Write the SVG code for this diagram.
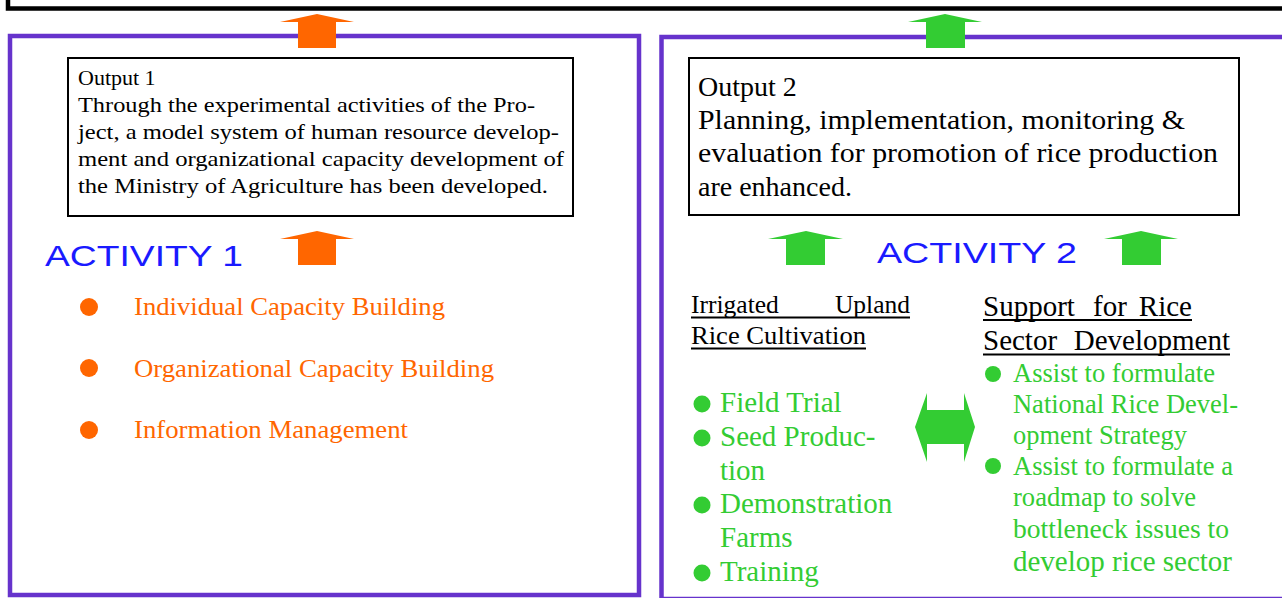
<svg xmlns="http://www.w3.org/2000/svg" width="1282" height="598" viewBox="0 0 1282 598">
<style>
.frame{fill:none;stroke:#6633CC;stroke-width:4.5}
.box{fill:#fff;stroke:#000;stroke-width:2}
.serif{font-family:"Liberation Serif","Times New Roman",serif}
.blk{fill:#000}
.act{font-family:"Liberation Sans",Arial,sans-serif;font-size:30px;fill:#1a1aff}
.org{fill:#FF6600}
.grn{fill:#33CC33}
.ul{stroke:#000;stroke-width:2}
</style>
<rect width="1282" height="598" fill="#fff"/>
<g id="goal">
<rect x="8" y="-50" width="1320" height="58.5" fill="none" stroke="#000" stroke-width="4.5"/>
</g>
<g id="left-panel">
<rect class="frame" x="10" y="36" width="629" height="559"/>
</g>
<g id="right-panel">
<rect class="frame" x="661.5" y="37" width="660" height="562"/>
</g>
<g id="output1">
<rect class="box" x="68" y="58" width="505" height="158"/>
<g class="serif blk" font-size="21.5">
<text x="78" y="85" font-size="22">Output 1</text>
<text x="78" y="112" textLength="457" lengthAdjust="spacingAndGlyphs">Through the experimental activities of the Pro-</text>
<text x="78" y="139" textLength="481" lengthAdjust="spacingAndGlyphs">ject, a model system of human resource develop-</text>
<text x="78" y="166" textLength="486" lengthAdjust="spacingAndGlyphs">ment and organizational capacity development of</text>
<text x="78" y="193" textLength="470" lengthAdjust="spacingAndGlyphs">the Ministry of Agriculture has been developed.</text>
</g>
</g>
<g id="output2">
<rect class="box" x="689" y="58" width="550" height="157"/>
<g class="serif blk" font-size="28">
<text x="698" y="96">Output 2</text>
<text x="698" y="129" textLength="487" lengthAdjust="spacingAndGlyphs">Planning, implementation, monitoring &amp;</text>
<text x="698" y="162" textLength="520" lengthAdjust="spacingAndGlyphs">evaluation for promotion of rice production</text>
<text x="698" y="196">are enhanced.</text>
</g>
</g>
<g id="activity1">
<text class="act" x="45" y="266" textLength="198" lengthAdjust="spacingAndGlyphs">ACTIVITY 1</text>
<g class="org">
<circle cx="89" cy="307" r="9"/>
<circle cx="89" cy="368" r="9"/>
<circle cx="89" cy="430" r="9"/>
</g>
<g class="serif org" font-size="25">
<text x="134" y="315" textLength="311" lengthAdjust="spacingAndGlyphs">Individual Capacity Building</text>
<text x="134" y="377" textLength="360" lengthAdjust="spacingAndGlyphs">Organizational Capacity Building</text>
<text x="134" y="438" textLength="274" lengthAdjust="spacingAndGlyphs">Information Management</text>
</g>
</g>
<g id="activity2">
<text class="act" x="877" y="263" textLength="200" lengthAdjust="spacingAndGlyphs">ACTIVITY 2</text>
</g>
<g id="irrigated">
<g class="serif blk" font-size="25.5">
<text x="691" y="313">Irrigated</text>
<text x="910" y="313" text-anchor="end">Upland</text>
<text x="691" y="344" textLength="175" lengthAdjust="spacingAndGlyphs">Rice Cultivation</text>
</g>
<line class="ul" x1="691" y1="317.5" x2="910" y2="317.5"/>
<line class="ul" x1="691" y1="348.5" x2="866" y2="348.5"/>
<g class="grn">
<circle cx="702" cy="404" r="8.5"/>
<circle cx="702" cy="438" r="8.5"/>
<circle cx="702" cy="505" r="8.5"/>
<circle cx="702" cy="573" r="8.5"/>
</g>
<g class="serif grn" font-size="29">
<text x="720" y="412">Field Trial</text>
<text x="720" y="446">Seed Produc-</text>
<text x="720" y="480">tion</text>
<text x="720" y="513">Demonstration</text>
<text x="720" y="547">Farms</text>
<text x="720" y="581">Training</text>
</g>
</g>
<g id="support">
<g class="serif blk" font-size="29">
<text x="983" y="316">Support</text>
<text x="1093" y="316">for</text>
<text x="1192" y="316" text-anchor="end">Rice</text>
<text x="983" y="350">Sector</text>
<text x="1230" y="350" text-anchor="end">Development</text>
</g>
<line class="ul" x1="983" y1="320" x2="1192" y2="320"/>
<line class="ul" x1="983" y1="354.5" x2="1230" y2="354.5"/>
<g class="grn">
<circle cx="993" cy="374" r="8"/>
<circle cx="993" cy="466" r="8"/>
</g>
<g class="serif grn" font-size="26.5">
<text x="1013" y="382" textLength="202" lengthAdjust="spacingAndGlyphs">Assist to formulate</text>
<text x="1013" y="413" textLength="225" lengthAdjust="spacingAndGlyphs">National Rice Devel-</text>
<text x="1013" y="444" textLength="174" lengthAdjust="spacingAndGlyphs">opment Strategy</text>
<text x="1013" y="475" textLength="220" lengthAdjust="spacingAndGlyphs">Assist to formulate a</text>
<text x="1013" y="506" textLength="183" lengthAdjust="spacingAndGlyphs">roadmap to solve</text>
<text x="1013" y="538" font-size="27.5" textLength="216" lengthAdjust="spacingAndGlyphs">bottleneck issues to</text>
<text x="1013" y="571" font-size="28.5" textLength="219" lengthAdjust="spacingAndGlyphs">develop rice sector</text>
</g>
</g>
<g id="connectors">
<polygon class="org" points="317,14 354,22 336,22 336,48 298,48 298,22 280,22"/>
<polygon class="grn" points="945,14 982,22 965,22 965,48 926,48 926,22 908,22"/>
<polygon class="org" points="317,231 354,239 336,239 336,265 298,265 298,239 280,239"/>
<polygon class="grn" points="806,231 843,239 825,239 825,265 786,265 786,239 768,239"/>
<polygon class="grn" points="1141,231 1178,239 1161,239 1161,265 1122,265 1122,239 1104,239"/>
<polygon class="grn" points="915,427 927,393 927,410 964,410 964,393 975,427 964,462 964,444 927,444 927,462"/>
</g>
</svg>
